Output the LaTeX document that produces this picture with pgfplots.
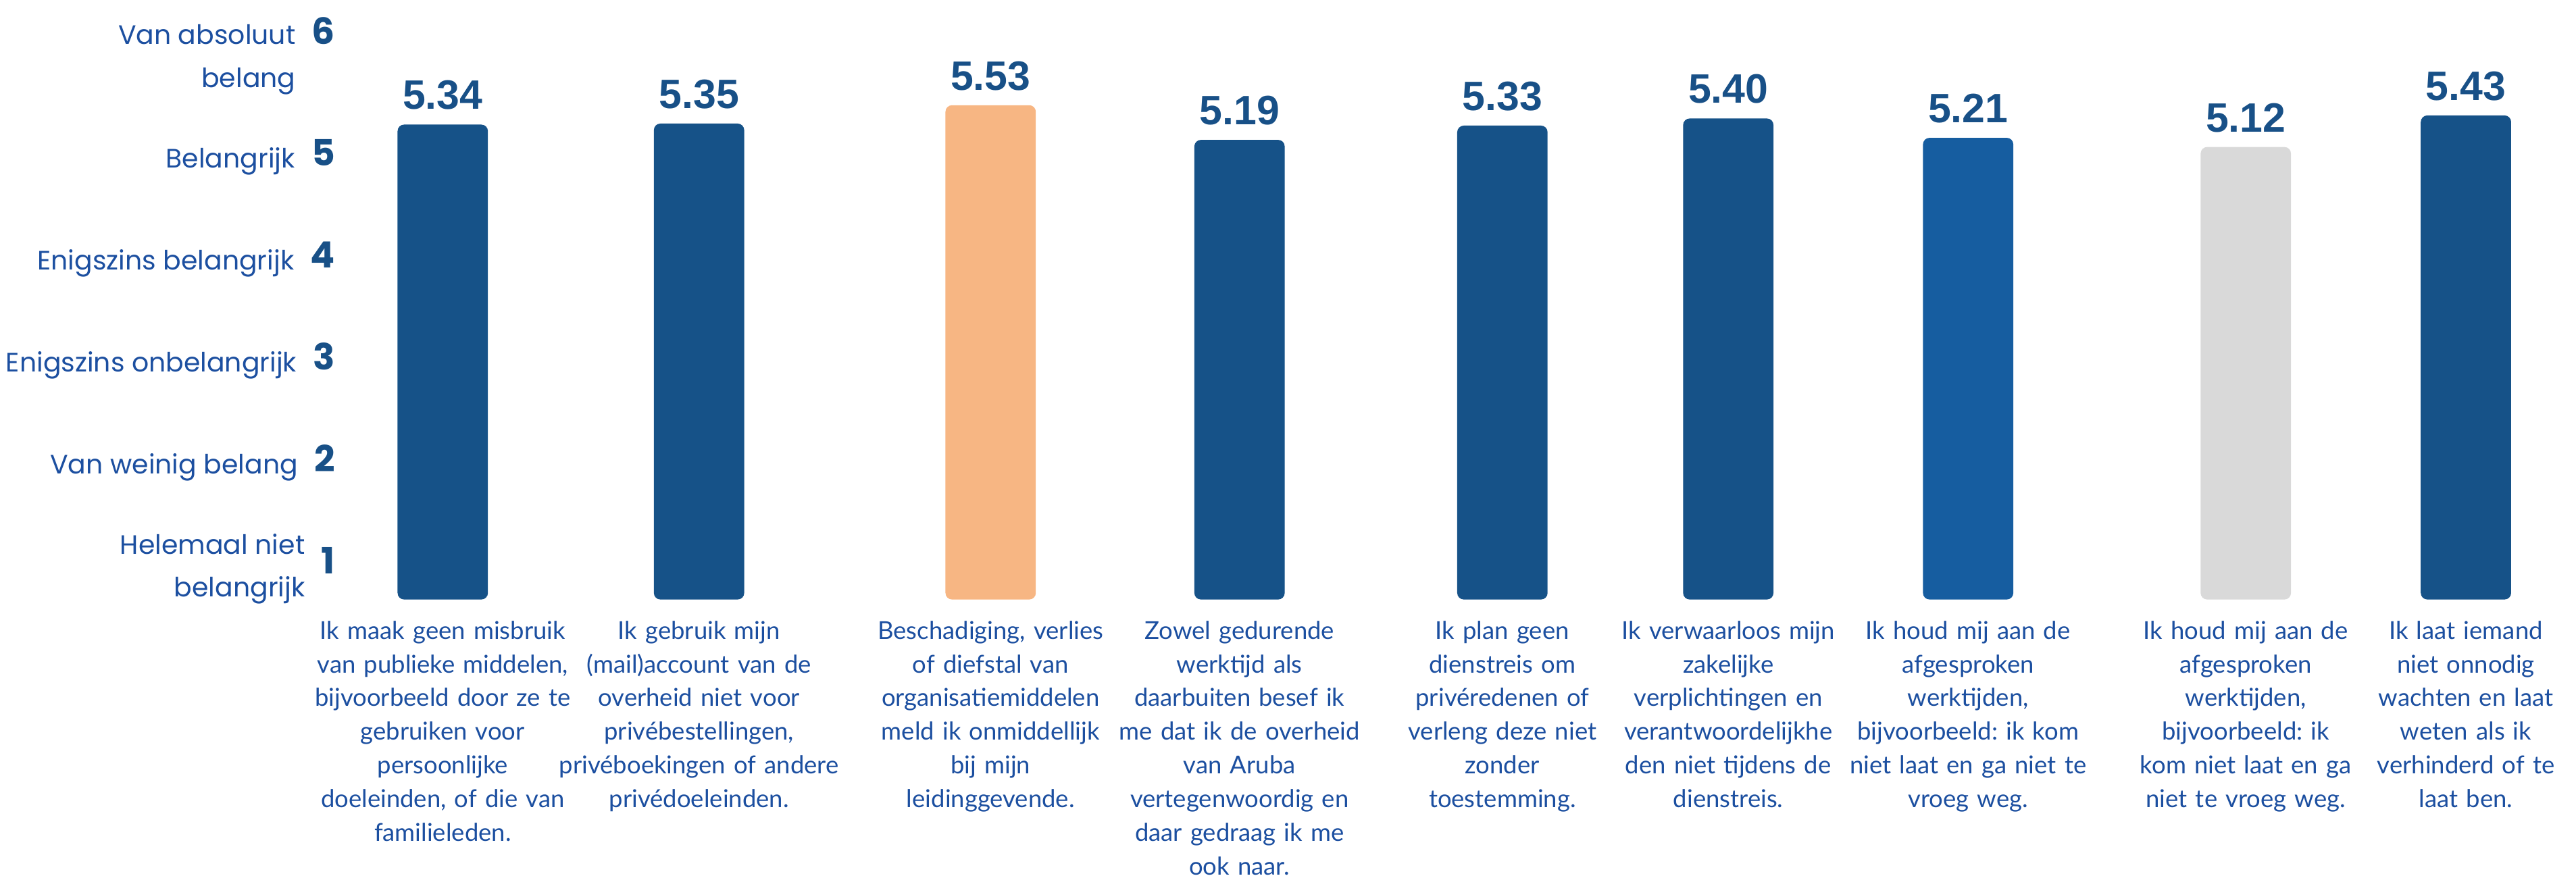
\documentclass[border=0pt]{standalone}
\usepackage{pgfplots}
\pgfplotsset{compat=1.18}
\usepackage{fontspec}
\setmainfont{Lato}
\frenchspacing
\newfontfamily\ylabfont{Poppins}
\newfontfamily\valfont{Liberation Sans}
\definecolor{labelblue}{RGB}{28,79,160}
\definecolor{numblue}{RGB}{24,80,135}
\definecolor{bardark}{RGB}{22,82,136}
\definecolor{barmid}{RGB}{22,93,160}
\definecolor{barorange}{RGB}{247,182,131}
\definecolor{bargray}{RGB}{217,217,217}
\newcommand\ylab[2]{{\ylabfont\fontsize{8.1}{13}\selectfont\begin{tabular}{@{}r@{}}#1\end{tabular}}\hspace{5pt}{\ylabfont\bfseries\fontsize{11}{12}\selectfont\color{numblue}#2}}
\newcommand\ylabt[2]{{\ylabfont\fontsize{8.1}{13}\selectfont\begin{tabular}[t]{@{}r@{}}#1\end{tabular}}\hspace{5pt}{\ylabfont\bfseries\fontsize{11}{12}\selectfont\color{numblue}#2}}
\begin{document}
\begin{tikzpicture}
\begin{axis}[name=ax, scale only axis, width=670pt, height=172.5pt,
  xmin=215, xmax=1555, ymin=0.68, ymax=6.24,
  ybar, bar width=55, bar shift=0pt, clip=false,
  axis line style={draw=none}, major tick length=0pt,
  /pgf/number format/assume math mode=true,
  every axis plot/.append style={draw=none, rounded corners=2pt},
  nodes near coords={\pgfmathprintnumber[fixed,fixed zerofill,precision=2]{\pgfplotspointmeta}},
  every node near coord/.append style={font=\valfont\bfseries\fontsize{12.5}{13}\selectfont, text=numblue, rounded corners=0pt, yshift=1pt},
  xtick={269.5,425.5,603,754.5,914.5,1052,1198,1367,1501},
  xticklabels={
    {Ik maak geen misbruik\\van publieke middelen,\\bijvoorbeeld door ze te\\gebruiken voor\\persoonlijke\\doeleinden, of die van\\familieleden.},
    {Ik gebruik mijn\\(mail)account van de\\overheid niet voor\\privébestellingen,\\privéboekingen of andere\\privédoeleinden.},
    {Beschadiging, verlies\\of diefstal van\\organisatiemiddelen\\meld ik onmiddellijk\\bij mijn\\leidinggevende.},
    {Zowel gedurende\\werktijd als\\daarbuiten besef ik\\me dat ik de overheid\\van Aruba\\vertegenwoordig en\\daar gedraag ik me\\ook naar.},
    {Ik plan geen\\dienstreis om\\privéredenen of\\verleng deze niet\\zonder\\toestemming.},
    {Ik verwaarloos mijn\\zakelijke\\verplichtingen en\\verantwoordelijkhe\\den niet tijdens de\\dienstreis.},
    {Ik houd mij aan de\\afgesproken\\werktijden,\\bijvoorbeeld: ik kom\\niet laat en ga niet te\\vroeg weg.},
    {Ik houd mij aan de\\afgesproken\\werktijden,\\bijvoorbeeld: ik\\kom niet laat en ga\\niet te vroeg weg.},
    {Ik laat iemand\\niet onnodig\\wachten en laat\\weten als ik\\verhinderd of te\\laat ben.}},
  xticklabel style={anchor=north, align=center, text width=100pt, font=\fontsize{7.5}{10.25}\selectfont, text=labelblue, yshift=-3pt},
  ytick={1,2,3,4,5,6},
  yticklabels={
    {\ylab{Helemaal niet\\belangrijk}{1}},
    {\ylab{Van weinig belang}{2}},
    {\ylab{Enigszins onbelangrijk}{3}},
    {\ylab{Enigszins belangrijk}{4}},
    {\ylab{Belangrijk}{5}},
    {\ylabt{Van absoluut\\belang}{6}}},
  yticklabel style={anchor=east, text=labelblue, xshift=-2pt},
]
\addplot[fill=bardark] coordinates {(269.5,5.34) (425.5,5.35) (754.5,5.19) (914.5,5.33) (1052,5.40) (1501,5.43)};
\addplot[fill=barorange] coordinates {(603,5.53)};
\addplot[fill=barmid] coordinates {(1198,5.21)};
\addplot[fill=bargray] coordinates {(1367,5.12)};
\end{axis}
\pgfresetboundingbox
\path ([xshift=-107.5pt,yshift=-84pt]ax.south west) rectangle ([xshift=6.5pt,yshift=10pt]ax.north east);
\end{tikzpicture}
\end{document}
